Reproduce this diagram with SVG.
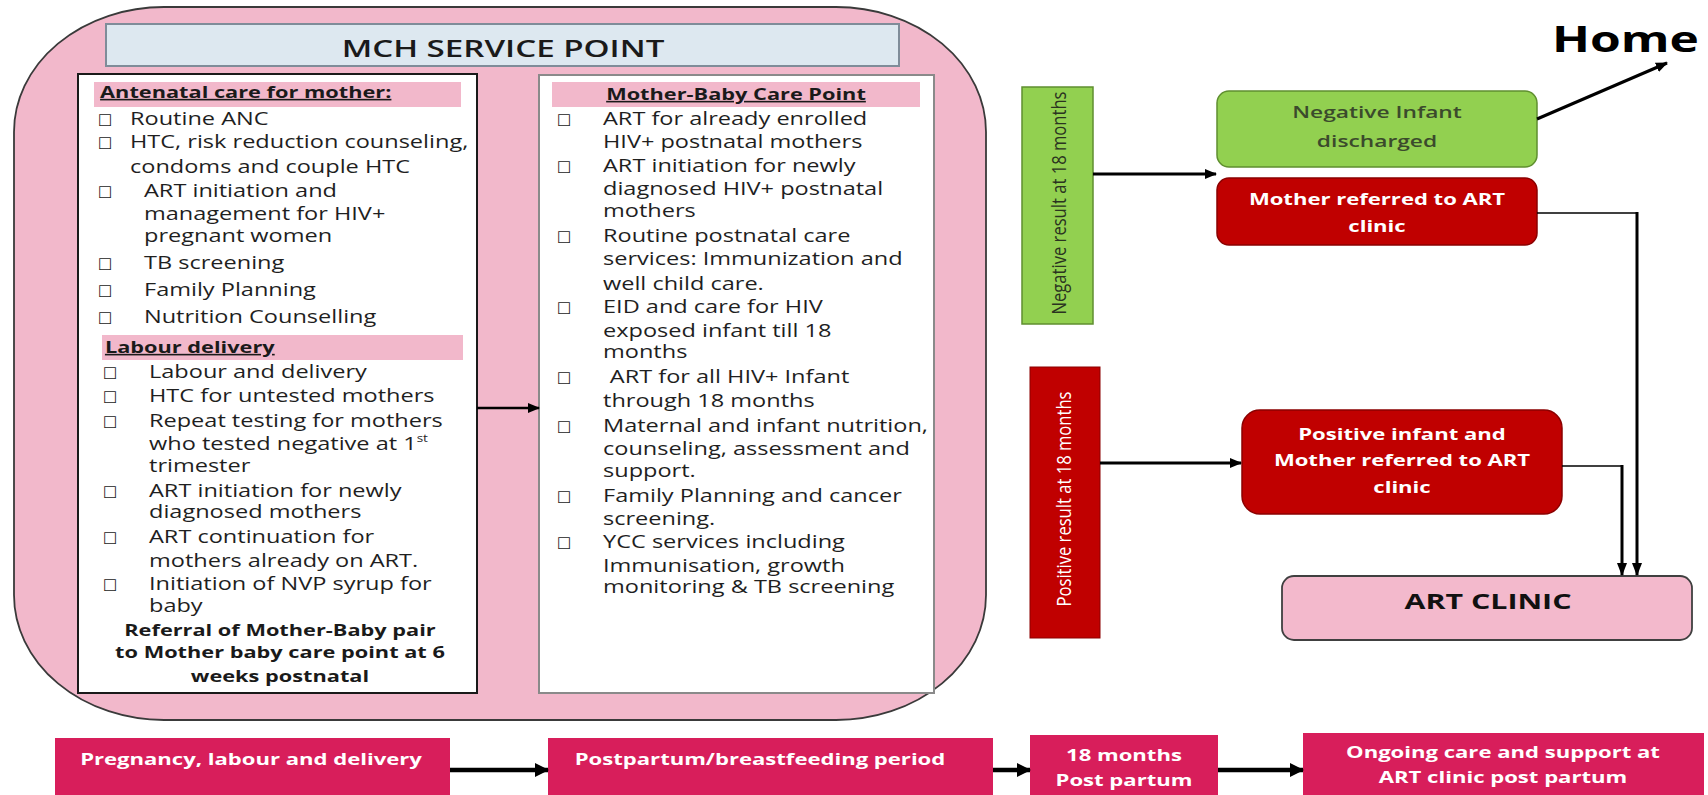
<svg xmlns="http://www.w3.org/2000/svg" width="1708" height="795" viewBox="0 0 1708 795">
<defs>
<style>
.t{font-family:"Open Sans","Liberation Sans",sans-serif;font-size:17.3px;fill:#1f1f1f}
.hd{font-family:"Open Sans","Liberation Sans",sans-serif;font-size:16px;font-weight:700;fill:#1a1a1a;text-decoration:underline}
.rf{font-family:"Open Sans","Liberation Sans",sans-serif;font-size:16px;font-weight:700;fill:#1a1a1a;text-anchor:middle}
.cb{font-family:"DejaVu Sans",sans-serif;font-size:16px;fill:#222}
.w{font-family:"Open Sans","Liberation Sans",sans-serif;font-size:16px;font-weight:700;fill:#fff;text-anchor:middle}
.g{font-family:"Open Sans","Liberation Sans",sans-serif;font-size:16.5px;font-weight:600;fill:#3b4a2c;text-anchor:middle}
.ln{fill:none;stroke:#000}
.bot{fill:#d81e5b}
</style>
<marker id="ah" viewBox="0 0 12 10" refX="11" refY="5" markerWidth="12" markerHeight="10" markerUnits="userSpaceOnUse" orient="auto"><path d="M0,0 L12,5 L0,10 z" fill="#000"/></marker>
<marker id="ahs" viewBox="0 0 10 13" refX="5" refY="12" markerWidth="10" markerHeight="13" markerUnits="userSpaceOnUse" orient="0"><path d="M0,0 L10,0 L5,13 z" fill="#000"/></marker>
<marker id="ahb" viewBox="0 0 14 14" refX="13" refY="7" markerWidth="14" markerHeight="14" markerUnits="userSpaceOnUse" orient="auto"><path d="M0,0 L14,7 L0,14 z" fill="#000"/></marker>
</defs>
<rect width="1708" height="795" fill="#fff"/>

<g id="mch-container">
<rect x="14" y="7" width="972" height="713" rx="150" ry="125" fill="#f2b8cb" stroke="#3a3a3a" stroke-width="1.8"/>
</g>

<g id="mch-title">
<rect x="106" y="24" width="793" height="42" fill="#dde8f0" stroke="#7f8c99" stroke-width="2"/>
<text x="0" y="57" transform="matrix(1.38,0,0,1,503,0)" style="font-family:'Open Sans','Liberation Sans',sans-serif;font-size:24px;font-weight:600;fill:#1a1a1a;text-anchor:middle">MCH SERVICE POINT</text>
</g>

<g id="antenatal-labour">
<rect x="78" y="74" width="399" height="619" fill="#fff" stroke="#1a1a1a" stroke-width="2"/>
<rect x="94" y="82" width="367" height="25" fill="#f2b8cb"/>
<rect x="102" y="335" width="361" height="25" fill="#f2b8cb"/>
<g class="cb">
<text x="98" y="126">☐</text><text x="98" y="149">☐</text><text x="98" y="198">☐</text><text x="98" y="270">☐</text><text x="98" y="297">☐</text><text x="98" y="324">☐</text>
<text x="103" y="379">☐</text><text x="103" y="403">☐</text><text x="103" y="428">☐</text><text x="103" y="498">☐</text><text x="103" y="544">☐</text><text x="103" y="591">☐</text>
</g>
<g transform="matrix(1.36,0,0,1,130,0)">
<text class="hd" x="-22" y="98">Antenatal care for mother:</text>
<text class="t" x="0" y="125">Routine ANC</text>
<text class="t" x="0" y="148">HTC, risk reduction counseling,</text>
<text class="t" x="0" y="173">condoms and couple HTC</text>
<text class="t" x="10.3" y="197">ART initiation and</text>
<text class="t" x="10.3" y="220">management for HIV+</text>
<text class="t" x="10.3" y="242">pregnant women</text>
<text class="t" x="10.3" y="269">TB screening</text>
<text class="t" x="10.3" y="296">Family Planning</text>
<text class="t" x="10.3" y="323" style="font-weight:500">Nutrition Counselling</text>
</g>
<g transform="matrix(1.36,0,0,1,149,0)">
<text class="hd" x="-32.4" y="353">Labour delivery</text>
<text class="t" x="0" y="378">Labour and delivery</text>
<text class="t" x="0" y="402">HTC for untested mothers</text>
<text class="t" x="0" y="427">Repeat testing for mothers</text>
<text class="t" x="0" y="450">who tested negative at 1<tspan font-size="10" dy="-8">st</tspan></text>
<text class="t" x="0" y="472">trimester</text>
<text class="t" x="0" y="497">ART initiation for newly</text>
<text class="t" x="0" y="518">diagnosed mothers</text>
<text class="t" x="0" y="543">ART continuation for</text>
<text class="t" x="0" y="567">mothers already on ART.</text>
<text class="t" x="0" y="590">Initiation of NVP syrup for</text>
<text class="t" x="0" y="612">baby</text>
<text class="rf" x="96.3" y="636">Referral of Mother-Baby pair</text>
<text class="rf" x="96.3" y="658">to Mother baby care point at 6</text>
<text class="rf" x="96.3" y="682">weeks postnatal</text>
</g>
</g>

<g id="mother-baby-care-point">
<rect x="539" y="75" width="395" height="618" fill="#fff" stroke="#8a8a8a" stroke-width="2"/>
<rect x="552" y="82" width="368" height="25" fill="#f2b8cb"/>
<g class="cb">
<text x="557" y="126">☐</text><text x="557" y="173">☐</text><text x="557" y="243">☐</text><text x="557" y="314">☐</text><text x="557" y="384">☐</text><text x="557" y="433">☐</text><text x="557" y="503">☐</text><text x="557" y="549">☐</text>
</g>
<g transform="matrix(1.36,0,0,1,603,0)">
<text class="hd" x="97.8" y="100" text-anchor="middle">Mother-Baby Care Point</text>
<text class="t" x="0" y="125">ART for already enrolled</text>
<text class="t" x="0" y="148">HIV+ postnatal mothers</text>
<text class="t" x="0" y="172">ART initiation for newly</text>
<text class="t" x="0" y="195">diagnosed HIV+ postnatal</text>
<text class="t" x="0" y="217">mothers</text>
<text class="t" x="0" y="242">Routine postnatal care</text>
<text class="t" x="0" y="265">services: Immunization and</text>
<text class="t" x="0" y="290">well child care.</text>
<text class="t" x="0" y="313">EID and care for HIV</text>
<text class="t" x="0" y="337">exposed infant till 18</text>
<text class="t" x="0" y="358">months</text>
<text class="t" x="5" y="383">ART for all HIV+ Infant</text>
<text class="t" x="0" y="407">through 18 months</text>
<text class="t" x="0" y="432">Maternal and infant nutrition,</text>
<text class="t" x="0" y="455">counseling, assessment and</text>
<text class="t" x="0" y="477">support.</text>
<text class="t" x="0" y="502">Family Planning and cancer</text>
<text class="t" x="0" y="525">screening.</text>
<text class="t" x="0" y="548">YCC services including</text>
<text class="t" x="0" y="572">Immunisation, growth</text>
<text class="t" x="0" y="593">monitoring &amp; TB screening</text>
</g>
</g>

<g id="negative-result">
<rect x="1022" y="87" width="71" height="237" fill="#92d050" stroke="#5f8f2f" stroke-width="1.5"/>
<text x="0" y="0" transform="translate(1066,203) rotate(-90) scale(1,1.3)" textLength="223" lengthAdjust="spacingAndGlyphs" style="font-family:'Open Sans','Liberation Sans',sans-serif;font-size:15px;fill:#2a3320;text-anchor:middle">Negative result at 18 months</text>
</g>

<g id="negative-infant">
<rect x="1217" y="91" width="320" height="76" rx="12" fill="#92d050" stroke="#5f8f2f" stroke-width="1.5"/>
<text class="g" x="0" y="118" transform="matrix(1.38,0,0,1,1377,0)">Negative Infant</text>
<text class="g" x="0" y="147" transform="matrix(1.38,0,0,1,1377,0)">discharged</text>
</g>

<g id="mother-referred">
<rect x="1217" y="178" width="320" height="67" rx="12" fill="#c00000" stroke="#8b0000" stroke-width="1.5"/>
<text class="w" x="0" y="205" transform="matrix(1.38,0,0,1,1377,0)">Mother referred to ART</text>
<text class="w" x="0" y="232" transform="matrix(1.38,0,0,1,1377,0)">clinic</text>
</g>

<g id="home">
<text x="1552" y="52" style="font-family:'Open Sans','Liberation Sans',sans-serif;font-size:36px;font-weight:700;fill:#000" transform="matrix(1.38,0,0,1,-589.8,0)">Home</text>
</g>

<g id="positive-result">
<rect x="1030" y="367" width="70" height="271" fill="#c00000" stroke="#8b0000" stroke-width="1"/>
<text x="0" y="0" transform="translate(1071,499) rotate(-90) scale(1,1.3)" textLength="215" lengthAdjust="spacingAndGlyphs" style="font-family:'Open Sans','Liberation Sans',sans-serif;font-size:15px;fill:#fff;text-anchor:middle">Positive result at 18 months</text>
</g>

<g id="positive-infant">
<rect x="1242" y="410" width="320" height="104" rx="18" fill="#c00000" stroke="#8b0000" stroke-width="1.5"/>
<text class="w" x="0" y="440" transform="matrix(1.38,0,0,1,1402,0)">Positive infant and</text>
<text class="w" x="0" y="466" transform="matrix(1.38,0,0,1,1402,0)">Mother referred to ART</text>
<text class="w" x="0" y="493" transform="matrix(1.38,0,0,1,1402,0)">clinic</text>
</g>

<g id="art-clinic">
<rect x="1282" y="576" width="410" height="64" rx="12" fill="#f3b9cc" stroke="#404040" stroke-width="1.8"/>
<text x="0" y="609" transform="matrix(1.38,0,0,1,1488,0)" style="font-family:'Open Sans','Liberation Sans',sans-serif;font-size:22px;font-weight:700;fill:#111;text-anchor:middle">ART CLINIC</text>
</g>

<g id="timeline-1">
<rect class="bot" x="55" y="738" width="395" height="60"/>
<text class="w" x="0" y="765" transform="matrix(1.38,0,0,1,251,0)">Pregnancy, labour and delivery</text>
</g>
<g id="timeline-2">
<rect class="bot" x="548" y="738" width="445" height="60"/>
<text class="w" x="0" y="765" transform="matrix(1.38,0,0,1,760,0)">Postpartum/breastfeeding period</text>
</g>
<g id="timeline-3">
<rect class="bot" x="1030" y="735" width="188" height="63"/>
<text class="w" x="0" y="761" transform="matrix(1.38,0,0,1,1124,0)">18 months</text>
<text class="w" x="0" y="786" transform="matrix(1.38,0,0,1,1124,0)">Post partum</text>
</g>
<g id="timeline-4">
<rect class="bot" x="1303" y="733" width="401" height="65"/>
<text class="w" x="0" y="758" transform="matrix(1.38,0,0,1,1503,0)">Ongoing care and support at</text>
<text class="w" x="0" y="783" transform="matrix(1.38,0,0,1,1503,0)">ART clinic post partum</text>
</g>

<g id="connectors">
<line class="ln" x1="477" y1="408" x2="539" y2="408" stroke-width="2.5" marker-end="url(#ah)"/>
<line class="ln" x1="1093" y1="174" x2="1216" y2="174" stroke-width="3" marker-end="url(#ah)"/>
<line class="ln" x1="1537" y1="119" x2="1667" y2="63" stroke-width="3" marker-end="url(#ah)"/>
<path class="ln" d="M1537,213 H1637" stroke-width="1.5"/>
<path class="ln" d="M1637,212 V575" stroke-width="3" marker-end="url(#ahs)"/>
<line class="ln" x1="1100" y1="463" x2="1241" y2="463" stroke-width="3" marker-end="url(#ah)"/>
<path class="ln" d="M1562,466 H1622" stroke-width="1.5"/>
<path class="ln" d="M1622,465 V575" stroke-width="3" marker-end="url(#ahs)"/>
<line class="ln" x1="450" y1="770" x2="548" y2="770" stroke-width="4.5" marker-end="url(#ahb)"/>
<line class="ln" x1="993" y1="770" x2="1030" y2="770" stroke-width="4.5" marker-end="url(#ahb)"/>
<line class="ln" x1="1218" y1="770" x2="1303" y2="770" stroke-width="4.5" marker-end="url(#ahb)"/>
</g>
</svg>
